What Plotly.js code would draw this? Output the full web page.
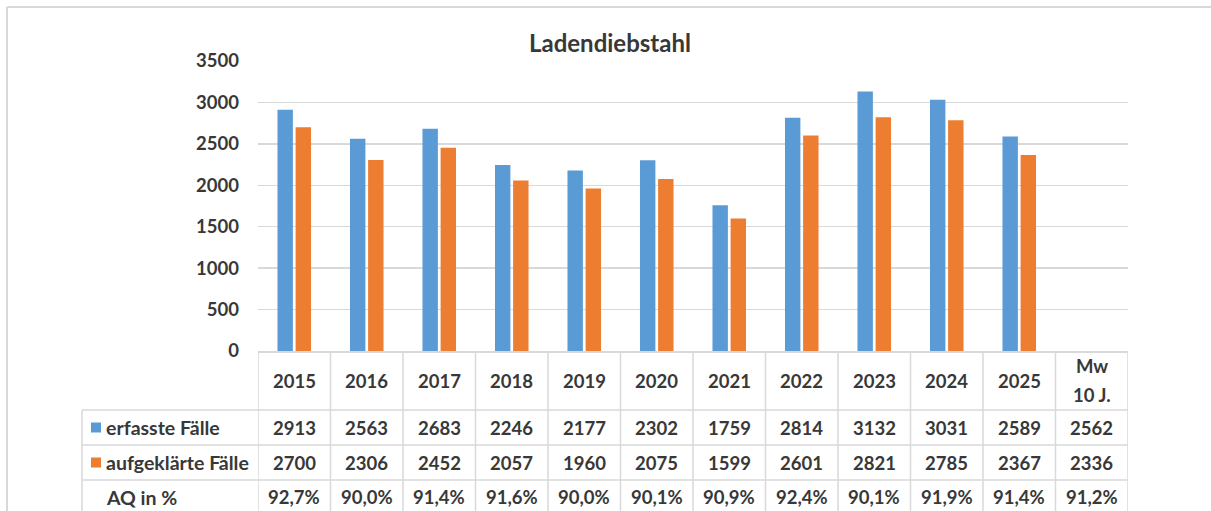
<!DOCTYPE html>
<html>
<head>
<meta charset="utf-8">
<script src="https://cdn.plot.ly/plotly-3.0.1.min.js"></script>
<style>html,body{margin:0;padding:0;background:#fff;}#chart{width:1211px;height:511px;}</style>
</head>
<body>
<div id="chart"></div>
<script>
// ---- data ----
const categories = ['2015','2016','2017','2018','2019','2020','2021','2022','2023','2024','2025','Mw 10 J.'];
const headerLabels = ['2015','2016','2017','2018','2019','2020','2021','2022','2023','2024','2025'];
const erfassteFaelle = [2913, 2563, 2683, 2246, 2177, 2302, 1759, 2814, 3132, 3031, 2589, null];
const aufgeklaerteFaelle = [2700, 2306, 2452, 2057, 1960, 2075, 1599, 2601, 2821, 2785, 2367, null];
const aqInProzent = ['92,7%','90,0%','91,4%','91,6%','90,0%','90,1%','90,9%','92,4%','90,1%','91,9%','91,4%','91,2%'];
const mittelwertErfasst = 2562;
const mittelwertAufgeklaert = 2336;
const seriesNames = ['erfasste Fälle', 'aufgeklärte Fälle', 'AQ in %'];
const chartTitle = 'Ladendiebstahl';

// ---- layout geometry (pixels) ----
const W = 1211, H = 511;
const L = 258, R = 1128, T = 61, B = 351;
const px = X => (X - L) / (R - L);
const py = Y => (B - Y) / (B - T);
const TXT = '#383838', GRID = '#d9d9d9';
const FONT = 'Lato, "Open Sans", sans-serif';
const FS = 18.5;

const rowLines = [410, 445, 480, 516];
const rowCenters = [427.5, 462.5, 497.5];
const labelLeft = 82;

const traces = [
  {type:'bar', name: seriesNames[0], x: categories, y: erfassteFaelle, marker:{color:'#5B9BD5'}, hoverinfo:'x+y'},
  {type:'bar', name: seriesNames[1], x: categories, y: aufgeklaerteFaelle, marker:{color:'#ED7D31'}, hoverinfo:'x+y'}
];

const shapes = [];
const annotations = [];
const line = {color: GRID, width: 1.5};

// outer frame
shapes.push({type:'line', xref:'paper', yref:'paper', x0:px(7), x1:px(1215), y0:py(7), y1:py(7), line:{color:'#d9d9d9', width:2}});
shapes.push({type:'line', xref:'paper', yref:'paper', x0:px(7), x1:px(7), y0:py(7), y1:py(515), line:{color:'#d9d9d9', width:2}});

// vertical table lines at category boundaries
for (let i = 0; i <= categories.length; i++) {
  shapes.push({type:'line', xref:'x', yref:'paper', x0:i-0.5, x1:i-0.5, y0:py(B), y1:py(rowLines[3]), line});
}
// label column left edge
shapes.push({type:'line', xref:'paper', yref:'paper', x0:px(labelLeft), x1:px(labelLeft), y0:py(rowLines[0]), y1:py(rowLines[3]), line});
// horizontal lines
rowLines.forEach(Y => {
  shapes.push({type:'line', xref:'paper', yref:'paper', x0:px(labelLeft), x1:1, y0:py(Y), y1:py(Y), line});
});

const font = {family: FONT, size: FS, color: TXT, weight: 'bold'};
const labelFont = {family: FONT, size: 19.5, color: TXT, weight: 'bold'};
const ann = (xref, x, Y, text, xanchor, f) => annotations.push({xref, yref:'paper', x, y:py(Y), text, showarrow:false, xanchor: xanchor || 'center', yanchor:'middle', font: f || font});

// header
headerLabels.forEach((t, i) => ann('x', i, 380.5, t));
ann('x', 11, 366, 'Mw');
ann('x', 11, 395, '10 J.');

// rows
const rowValues = [
  erfassteFaelle.slice(0, 11).map(String).concat([String(mittelwertErfasst)]),
  aufgeklaerteFaelle.slice(0, 11).map(String).concat([String(mittelwertAufgeklaert)]),
  aqInProzent
];
rowValues.forEach((vals, r) => {
  vals.forEach((v, i) => ann('x', i, rowCenters[r], v));
  ann('paper', px(104), rowCenters[r], seriesNames[r], 'left', labelFont);
});
// legend keys
[['#5B9BD5', 0], ['#ED7D31', 1]].forEach(([c, r]) => {
  shapes.push({type:'rect', xref:'paper', yref:'paper', x0:px(91), x1:px(101), y0:py(rowCenters[r]-5), y1:py(rowCenters[r]+5), fillcolor:c, line:{width:0}});
});

const layout = {
  width: W, height: H,
  margin: {l: L, r: W - R, t: T, b: H - B, pad: 0},
  paper_bgcolor: '#fff', plot_bgcolor: '#fff',
  title: {text: chartTitle, xref:'container', yref:'container', x: 610 / W, y: 1 - 44 / H, xanchor:'center', yanchor:'middle',
          font: {family: FONT, size: 24, color: TXT, weight: 'bold'}},
  showlegend: false,
  barmode: 'group', bargap: 0.5, bargroupgap: 0.15,
  xaxis: {type:'category', categoryorder:'array', categoryarray: categories, range:[-0.5, 11.5],
          showticklabels:false, ticks:'', showgrid:false, zeroline:false, showline:true, linecolor: GRID, linewidth: 1.5, fixedrange:true},
  yaxis: {range:[0, 3500], dtick: 500, tick0: 0, showgrid:true, gridcolor: GRID, gridwidth: 1.5, zeroline:false, showline:false,
          ticks:'', ticklabelstandoff: 18, tickfont: {family: FONT, size: FS, color: TXT, weight: 'bold'}, fixedrange:true},
  shapes, annotations,
  font: {family: FONT, color: TXT}
};

Plotly.newPlot('chart', traces, layout, {displayModeBar:false, staticPlot:true});
</script>
</body>
</html>
